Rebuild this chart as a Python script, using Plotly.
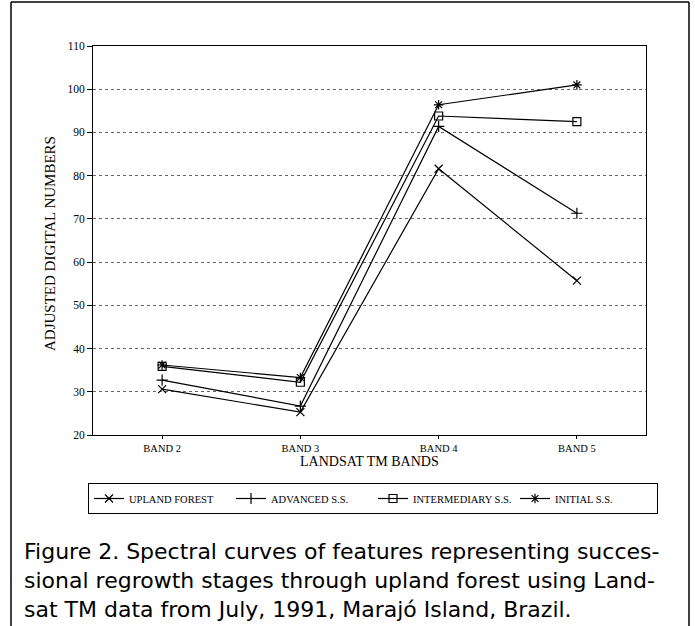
import plotly.graph_objects as go

bands = ["BAND 2", "BAND 3", "BAND 4", "BAND 5"]
upland_forest = [30.6, 25.3, 81.6, 55.7]
advanced_ss = [32.7, 26.7, 91.4, 71.3]
intermediary_ss = [35.9, 32.2, 93.8, 92.5]
initial_ss = [36.2, 33.3, 96.4, 101.0]
y_ticks = [20, 30, 40, 50, 60, 70, 80, 90, 100, 110]

W, H = 695, 626
L, R, T, B = 93, 646, 46, 435  # plot area in pixels


def px(x):
    return (x - L) / (R - L)


def py(y):
    return (B - y) / (B - T)


serif = "Liberation Serif"
fig = go.Figure()

series = [
    ("UPLAND FOREST", upland_forest, "x-thin"),
    ("ADVANCED S.S.", advanced_ss, "cross-thin"),
    ("INTERMEDIARY S.S.", intermediary_ss, "square-open"),
    ("INITIAL S.S.", initial_ss, "asterisk-open"),
]
for name, vals, sym in series:
    fig.add_trace(go.Scatter(
        x=bands, y=vals, name=name, mode="lines+markers",
        line=dict(color="black", width=1.2),
        marker=dict(symbol=sym, size=8, color="black",
                    line=dict(color="black", width=1.2)),
    ))

fig.update_layout(
    width=W, height=H,
    margin=dict(l=L, r=W - R, t=T, b=H - B),
    paper_bgcolor="white", plot_bgcolor="white",
    font=dict(family=serif, color="black", size=10),
    legend=dict(
        orientation="h", x=px(88), y=py(483), xanchor="left", yanchor="top",
        bordercolor="black", borderwidth=1, bgcolor="white",
        font=dict(family=serif, size=10.5, color="black"),
        entrywidth=97, itemwidth=30, tracegroupgap=0,
    ),
    showlegend=True,
)

fig.update_xaxes(
    type="category", categoryorder="array", categoryarray=bands,
    range=[-0.5, 3.5], showgrid=False, showline=True, linecolor="black",
    linewidth=1, mirror=True, ticks="outside", ticklen=3, tickcolor="black",
    tickfont=dict(family=serif, size=10.5),
)
fig.update_yaxes(
    range=[20, 110], tickvals=y_ticks, showgrid=True, gridcolor="#666",
    griddash="dot", gridwidth=1, showline=True, linecolor="black",
    linewidth=1, mirror=True, ticks="outside", ticklen=5, tickcolor="black",
    tickfont=dict(family=serif, size=11.5), zeroline=False,
)

# axis titles
fig.add_annotation(text="ADJUSTED DIGITAL NUMBERS", xref="paper", yref="paper",
                   x=px(50), y=py(244), textangle=-90, showarrow=False,
                   xanchor="center", yanchor="middle",
                   font=dict(family=serif, size=15, color="black"))
fig.add_annotation(text="LANDSAT TM BANDS", xref="paper", yref="paper",
                   x=0.5, y=py(462), showarrow=False,
                   xanchor="center", yanchor="middle",
                   font=dict(family=serif, size=14, color="black"))

caption = [
    "Figure 2. Spectral curves of features representing succes-",
    "sional regrowth stages through upland forest using Land-",
    "sat TM data from July, 1991, Marajó Island, Brazil.",
]
for i, line in enumerate(caption):
    fig.add_annotation(
        text=line, xref="paper", yref="paper", x=px(22), y=py(551 + 29 * i),
        xanchor="left", yanchor="middle", showarrow=False,
        font=dict(family="DejaVu Sans", size=22, color="black"),
    )

# outer page frame
fig.add_shape(type="line", xref="paper", yref="paper",
              x0=px(11), x1=px(11), y0=py(2), y1=py(626), line=dict(color="black", width=1.5))
fig.add_shape(type="line", xref="paper", yref="paper",
              x0=px(689), x1=px(689), y0=py(2), y1=py(626), line=dict(color="black", width=1.5))
fig.add_shape(type="line", xref="paper", yref="paper",
              x0=px(11), x1=px(689), y0=py(2), y1=py(2), line=dict(color="black", width=1.5))

fig.write_html("out.html", config={"displayModeBar": False},
               post_script="document.body.style.margin='0';document.body.style.padding='0';")
